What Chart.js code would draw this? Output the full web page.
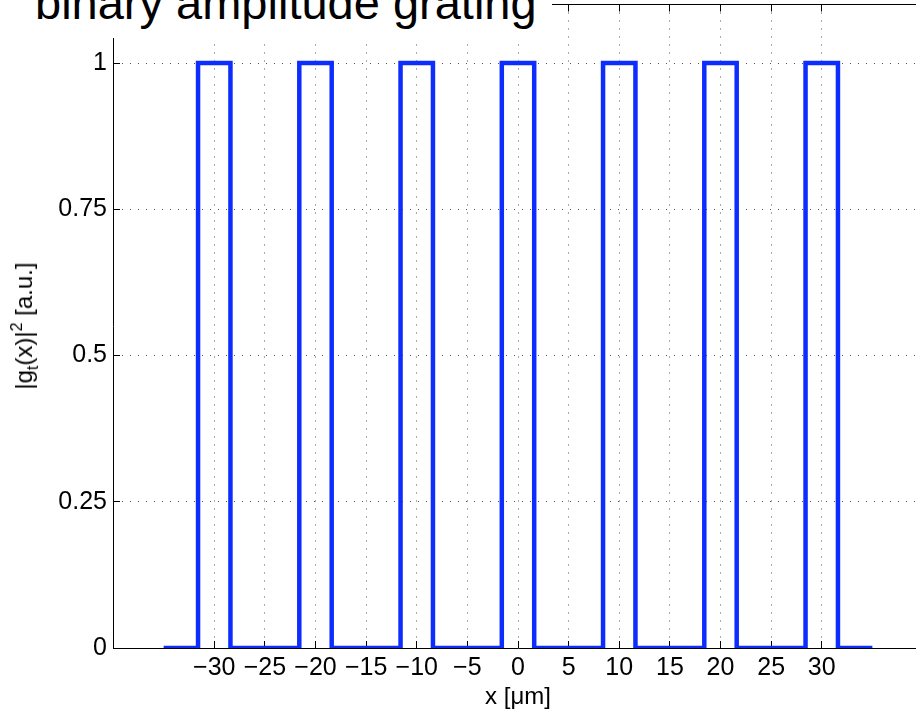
<!DOCTYPE html>
<html>
<head>
<meta charset="utf-8">
<script src="https://cdn.jsdelivr.net/npm/chart.js@4/dist/chart.umd.min.js"></script>
<style>
html,body{margin:0;padding:0;background:#fff;overflow:hidden;width:916px;height:712px;}
#wrap{position:absolute;left:0;top:0;width:940px;height:712px;}
#c{display:block;}
#title{position:absolute;left:0;top:0;width:552px;height:38px;background:#fff;overflow:hidden;}
#title span{position:absolute;left:35px;top:-21.3px;font-family:"Liberation Sans",Arial,Helvetica,sans-serif;font-size:47px;line-height:47px;white-space:nowrap;color:#000;}
#ylab{position:absolute;left:24px;top:326px;transform:translate(-50%,-50%) rotate(-90deg);font-family:"Liberation Sans",Arial,Helvetica,sans-serif;font-size:24px;line-height:24px;white-space:nowrap;color:#000;}
#ylab sub{font-size:16px;vertical-align:-6px;line-height:0;}
#ylab sup{font-size:16px;vertical-align:10px;line-height:0;}
</style>
</head>
<body>
<div id="wrap">
<canvas id="c" width="940" height="712" style="width:940px;height:712px;"></canvas>
<div id="title"><span>binary amplitude grating</span></div>
<div id="ylab">|g<sub>t</sub>(x)|<sup>2</sup> [a.u.]</div>
</div>
<script>
// ---- data ----
const xPositions = [-35, -31.6, -31.6, -28.4, -28.4, -21.6, -21.6, -18.4, -18.4,
  -11.6, -11.6, -8.4, -8.4, -1.6, -1.6, 1.6, 1.6, 8.4, 8.4, 11.6, 11.6,
  18.4, 18.4, 21.6, 21.6, 28.4, 28.4, 31.6, 31.6, 35];
const intensity = [0, 0, 1, 1, 0, 0, 1, 1, 0,
  0, 1, 1, 0, 0, 1, 1, 0, 0, 1, 1, 0,
  0, 1, 1, 0, 0, 1, 1, 0, 0];
const xTicks = [-30, -25, -20, -15, -10, -5, 0, 5, 10, 15, 20, 25, 30];
const xTickLabels = ['\u221230', '\u221225', '\u221220', '\u221215', '\u221210', '\u22125', '0', '5', '10', '15', '20', '25', '30'];
const yTicks = [0, 0.25, 0.5, 0.75, 1];
const yTickLabels = ['0', '0.25', '0.5', '0.75', '1'];

const FONT = '"Liberation Sans", Arial, Helvetica, sans-serif';
Chart.defaults.font.family = FONT;
Chart.defaults.color = '#000';

const points = xPositions.map((x, i) => ({x: x, y: intensity[i]}));

function align(p) { return Math.round(p - 0.5) + 0.5; }

const innerTicks = {
  id: 'innerTicks',
  beforeDatasetsDraw(chart) {
    const {ctx, chartArea: a, scales: {x, y}} = chart;
    ctx.save();
    ctx.strokeStyle = '#000';
    ctx.lineWidth = 1;
    ctx.setLineDash([]);
    ctx.beginPath();
    const top = align(a.top), right = align(a.right);
    ctx.moveTo(a.left, top); ctx.lineTo(a.right, top);
    ctx.moveTo(right, a.top); ctx.lineTo(right, a.bottom);
    x.ticks.forEach(t => {
      const px = align(x.getPixelForValue(t.value));
      ctx.moveTo(px, a.bottom); ctx.lineTo(px, a.bottom - 7);
      ctx.moveTo(px, a.top); ctx.lineTo(px, a.top + 7);
    });
    y.ticks.forEach(t => {
      const py = align(y.getPixelForValue(t.value));
      ctx.moveTo(a.left, py); ctx.lineTo(a.left + 7, py);
      ctx.moveTo(a.right, py); ctx.lineTo(a.right - 7, py);
    });
    ctx.stroke();
    ctx.restore();
  }
};

new Chart(document.getElementById('c'), {
  type: 'line',
  data: {
    datasets: [{
      data: points,
      borderColor: '#0d2dff',
      borderWidth: 4.5,
      pointRadius: 0,
      fill: false,
      tension: 0,
      borderJoinStyle: 'miter'
    }]
  },
  options: {
    responsive: false,
    animation: false,
    events: [],
    layout: {padding: {top: 4.5, right: 17, left: 0, bottom: 0}},
    plugins: {legend: {display: false}, tooltip: {enabled: false}, title: {display: false}},
    scales: {
      x: {
        type: 'linear', min: -40, max: 40,
        afterBuildTicks: s => { s.ticks = xTicks.map(v => ({value: v})); },
        afterFit: s => { s.height = 64; s.paddingLeft = 0; s.paddingRight = 0; },
        grid: {color: '#555', lineWidth: 1, drawTicks: false},
        border: {display: true, color: '#000', width: 1, dash: [1, 7]},
        ticks: {
          padding: 5, color: '#000', font: {size: 25}, maxRotation: 0, autoSkip: false,
          callback: v => xTickLabels[xTicks.indexOf(v)]
        },
        title: {display: true, text: 'x [\u03bcm]', color: '#000', font: {size: 24}, padding: {top: 0, bottom: 0}}
      },
      y: {
        type: 'linear', min: 0, max: 1.1,
        afterBuildTicks: s => { s.ticks = yTicks.map(v => ({value: v})); },
        afterFit: s => { s.width = 113; s.paddingTop = 0; s.paddingBottom = 0; },
        grid: {color: '#555', lineWidth: 1, drawTicks: false},
        border: {display: true, color: '#000', width: 1, dash: [1, 7]},
        ticks: {
          padding: 6, color: '#000', font: {size: 25}, autoSkip: false,
          callback: v => yTickLabels[yTicks.indexOf(v)]
        }
      }
    }
  },
  plugins: [innerTicks]
});
</script>
</body>
</html>
